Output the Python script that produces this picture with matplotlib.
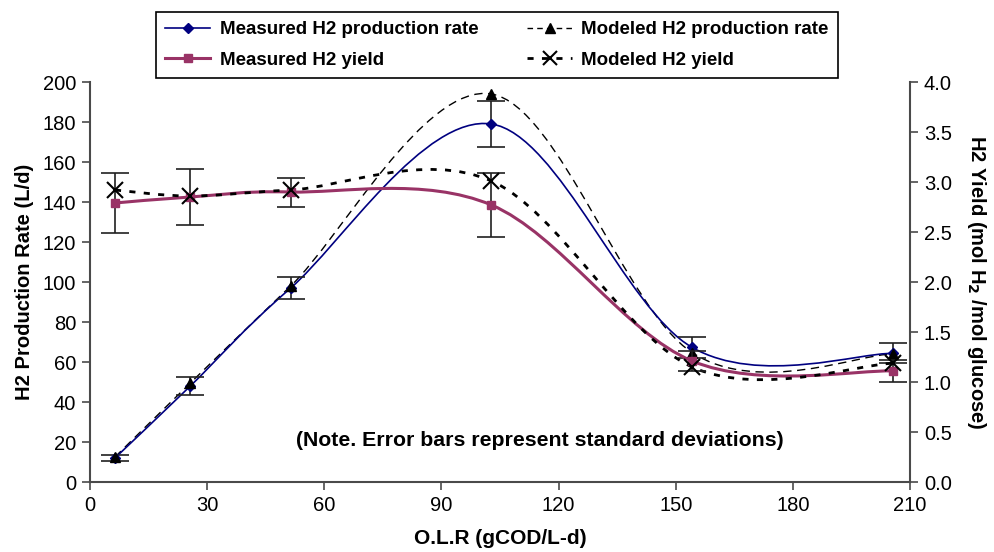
import numpy as np
import matplotlib
matplotlib.use('Agg')
import matplotlib.pyplot as plt
from matplotlib.path import Path
from matplotlib.patches import PathPatch
from matplotlib.lines import Line2D

plt.rcParams['font.family'] = ['Liberation Sans', 'DejaVu Sans']

# data
olr = [6.4, 25.7, 51.4, 102.8, 154.2, 205.6]
rate_meas = [12, 48, 97, 179, 67.3, 64.3]
rate_meas_sd = [1.5, 4.5, 5.3, 11.5, 5.2, 5.0]
rate_model = [12.5, 49.5, 98, 194, 64.7, 64.0]
yield_meas = [2.79, 2.85, 2.9, 2.77, 1.21, 1.11]
yield_meas_sd = [0.30, 0.28, 0.145, 0.32, 0.10, 0.11]
yield_model = [2.92, 2.86, 2.92, 3.01, 1.15, 1.187]

xticks = [0, 30, 60, 90, 120, 150, 180, 210]
rate_ticks = list(range(0, 201, 20))
yield_ticks = [0.0, 0.5, 1.0, 1.5, 2.0, 2.5, 3.0, 3.5, 4.0]


def smooth_path(x, y):
    # excel-like smoothed line: bezier segments, catmull-rom control points
    p = np.column_stack([x, y]).astype(float)
    n = len(p)
    verts = [p[0]]
    codes = [Path.MOVETO]
    for i in range(n - 1):
        p0 = p[max(i - 1, 0)]
        p1 = p[i]
        p2 = p[i + 1]
        p3 = p[min(i + 2, n - 1)]
        verts += [p1 + (p2 - p0) / 6, p2 - (p3 - p1) / 6, p2]
        codes += [Path.CURVE4] * 3
    return Path(verts, codes)


def add_line(ax, x, y, **kw):
    ax.add_patch(PathPatch(smooth_path(x, y), fill=False, **kw))


fig = plt.figure(figsize=(9.95, 5.52), dpi=100)
ax = fig.add_axes([90 / 995, 1 - 482 / 552, 820 / 995, 400 / 552])
ax2 = ax.twinx()

navy = '#000080'
plum = '#993366'
spine_c = '#4a4a4a'

# production rate (left axis)
add_line(ax, olr, rate_model, edgecolor='black', lw=1.0, linestyle=(0, (6, 4)))
add_line(ax, olr, rate_meas, edgecolor=navy, lw=1.2)
ax.errorbar(olr, rate_meas, yerr=rate_meas_sd, fmt='none', ecolor='#202020',
            elinewidth=1.2, capsize=10, capthick=1.2)
ax.plot(olr, rate_meas, ls='none', marker='D', ms=5, color=navy)
ax.plot(olr, rate_model, ls='none', marker='^', ms=7, color='black')

# yield (right axis)
add_line(ax2, olr, yield_meas, edgecolor=plum, lw=2.2)
add_line(ax2, olr, yield_model, edgecolor='black', lw=2.0, linestyle=(0, (2.2, 3)))
ax2.errorbar(olr, yield_meas, yerr=yield_meas_sd, fmt='none', ecolor='#202020',
             elinewidth=1.2, capsize=10, capthick=1.2)
ax2.plot(olr, yield_meas, ls='none', marker='s', ms=6, color=plum)
ax2.plot(olr, yield_model, ls='none', marker='x', ms=11, mew=1.5, color='black')

ax.set_xlim(0, 210)
ax.set_ylim(0, 200)
ax2.set_ylim(0, 4.0)
ax.set_xticks(xticks)
ax.set_yticks(rate_ticks)
ax2.set_yticks(yield_ticks)
ax2.set_yticklabels(['%.1f' % v for v in yield_ticks])

for a in (ax, ax2):
    a.spines['top'].set_visible(False)
    for s in ('left', 'right', 'bottom'):
        a.spines[s].set_color(spine_c)
        a.spines[s].set_linewidth(1.5)
    a.tick_params(direction='out', length=6, width=1.2, color=spine_c,
                  labelsize=14.5, pad=4)
ax.spines['right'].set_visible(False)
ax2.spines['left'].set_visible(False)
ax2.spines['bottom'].set_visible(False)

ax.set_xlabel('O.L.R (gCOD/L-d)', fontsize=15, fontweight='bold', labelpad=10)
ax.set_ylabel('H2 Production Rate (L/d)', fontsize=14.5, fontweight='bold', labelpad=6)
ax2.set_ylabel('H2 Yield (mol H$_\\mathbf{2}$ /mol glucose)', fontsize=14.5,
               fontweight='bold', rotation=270, labelpad=26)

ax.text(0.549, 0.105, '(Note. Error bars represent standard deviations)',
        transform=ax.transAxes, ha='center', va='center', fontsize=15.3,
        fontweight='bold')

handles = [
    Line2D([], [], color=navy, lw=1.2, marker='D', ms=5),
    Line2D([], [], color=plum, lw=2.2, marker='s', ms=6),
    Line2D([], [], color='black', lw=1.0, ls=(0, (4, 3)), marker='^', ms=7),
    Line2D([], [], color='black', lw=2.0, ls=(0, (2.2, 3)), marker='x', ms=10, mew=1.5),
]
labels = ['Measured H2 production rate', 'Measured H2 yield',
          'Modeled H2 production rate', 'Modeled H2 yield']
leg = fig.legend(handles, labels, ncol=2, loc='upper center',
                 bbox_to_anchor=(497 / 995, 1 - 12 / 552),
                 prop={'weight': 'bold', 'size': 13.5}, frameon=True,
                 fancybox=False, edgecolor='black', framealpha=1,
                 handlelength=2.4, handletextpad=0.5, columnspacing=2.6,
                 borderpad=0.5, borderaxespad=0, labelspacing=0.7)
leg.get_frame().set_linewidth(1.2)

fig.savefig('out.png', dpi=100)
